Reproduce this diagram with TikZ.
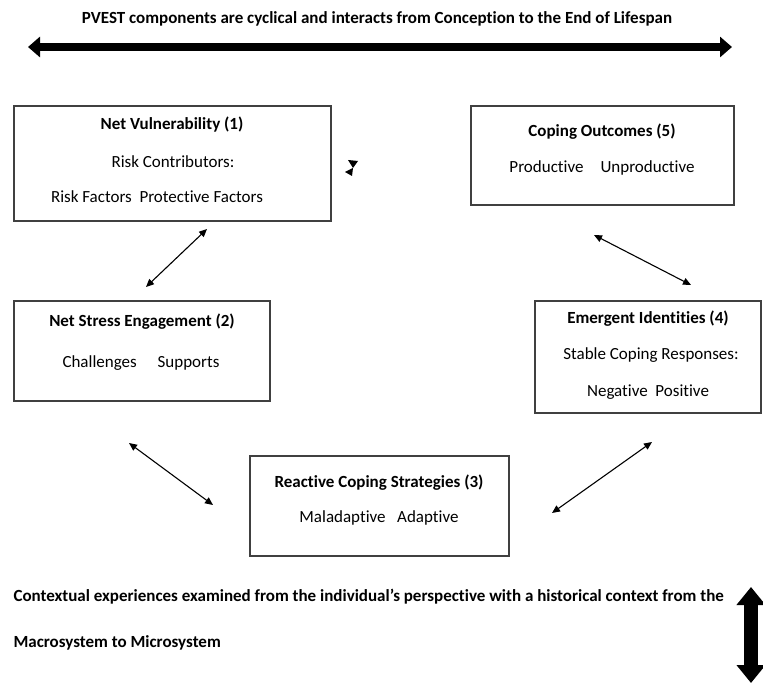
\documentclass[tikz,border=0pt]{standalone}
\usepackage{fontspec}
\setmainfont{Carlito}[Ligatures=NoCommon]
\usetikzlibrary{arrows.meta,calc}

\begin{document}
\begin{tikzpicture}[x=1pt, y=-1pt,
	font=\fontsize{17}{20}\selectfont,
	box/.style={draw=black!75, line width=1.4pt, rectangle, inner sep=0pt},
	hd/.style={font=\fontsize{17}{20}\selectfont\bfseries},
	dbl/.style={{Triangle[width=7pt,length=8pt]}-{Triangle[width=7pt,length=8pt]}, line width=1.1pt}]

			\useasboundingbox (0,0) rectangle (763,684);

			% Title and the lifespan arrow
			\node[hd] (title) at (377,19) {PVEST components are cyclical and interacts from Conception to the End of Lifespan};
			\coordinate (lsL) at (28,47);
			\coordinate (lsR) at (732,47);
			\draw[line width=8pt, {Triangle[width=20pt,length=12pt]}-{Triangle[width=20pt,length=12pt]}] (lsL) -- (lsR);

			% Boxes
			\node[box, minimum width=317, minimum height=115] (nv) at (172.5,163.5) {};
			\node[box, minimum width=263, minimum height=99] (co) at (602.5,155.5) {};
			\node[box, minimum width=256, minimum height=100] (nse) at (142,351) {};
			\node[box, minimum width=226, minimum height=112] (ei) at (648,357) {};
			\node[box, minimum width=259, minimum height=100] (rcs) at (379.5,506) {};

			% Box texts
			\node[hd] (nvT) at (172,125) {Net Vulnerability (1)};
			\node (nvA) at (173,162) {Risk Contributors:};
			\node (nvB) at (157,197) {Risk Factors\ \ Protective Factors};

			\node[hd] (coT) at (602,132) {Coping Outcomes (5)};
			\node (coA) at (602,168) {Productive\quad Unproductive};

			\node[hd] (nseT) at (142,322) {Net Stress Engagement (2)};
			\node (nseA) at (141,363) {Challenges\quad\ Supports};

			\node[hd] (eiT) at (648,319) {Emergent Identities (4)};
			\node (eiA) at (651,355) {Stable Coping Responses:};
			\node (eiB) at (648,392) {Negative\ \ Positive};

			\node[hd] (rcsT) at (379,483) {Reactive Coping Strategies (3)};
			\node (rcsA) at (379,518) {Maladaptive\ \ \ Adaptive};

			% Links between components
			\coordinate (a1) at (207,229); \coordinate (a2) at (146,287);
			\coordinate (a3) at (594,235); \coordinate (a4) at (691,285);
			\coordinate (a5) at (129,443); \coordinate (a6) at (213,505);
			\coordinate (a7) at (652,442); \coordinate (a8) at (552,513);
			\foreach \p/\q in {a1/a2, a3/a4, a5/a6, a7/a8}
				\draw[dbl] (\p) -- (\q);

			% stray mark next to box 1 (two tips meeting)
			\fill (348,160) -- (358,161) -- (353,168) -- cycle;
			\fill (353,168) -- (345,172) -- (352,176) -- cycle;

			% Context text and the system arrow
			\node[hd, anchor=west] (ctxA) at (10,597) {Contextual experiences examined from the individual’s perspective with a historical context from the};
			\node[hd, anchor=west] (ctxB) at (10,643) {Macrosystem to Microsystem};
			\coordinate (sysT) at (751,587);
			\coordinate (sysB) at (751,683);
			\draw[line width=14pt, {Triangle[width=28pt,length=18pt]}-{Triangle[width=28pt,length=18pt]}] (sysT) -- (sysB);
		\end{tikzpicture}
\end{document}
